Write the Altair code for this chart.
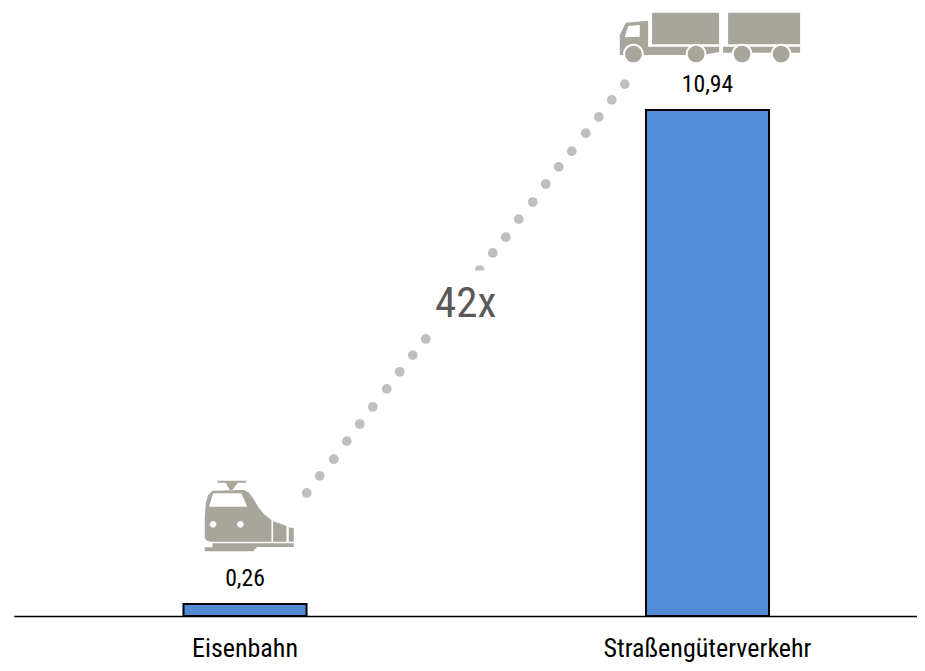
import altair as alt
import pandas as pd

categories = ["Eisenbahn", "Straßengüterverkehr"]
values = [0.26, 10.94]
value_labels = ["0,26", "10,94"]

# connector dots: x in category positions (0 = Eisenbahn, 1 = Straße), y in chart units
dot_x = [0.1335, 0.1616, 0.1919, 0.2200, 0.2481, 0.2762, 0.3065, 0.3346, 0.3627, 0.3908, 0.4211, 0.4492, 0.4773,
         0.5076, 0.5357, 0.5638, 0.5919, 0.6222, 0.6503, 0.6784, 0.7065, 0.7368, 0.7649, 0.7930, 0.8211]
dot_y = [2.66, 3.03, 3.39, 3.78, 4.15, 4.52, 4.91, 5.28, 5.64, 5.99, 6.38, 6.75, 7.11, 7.48, 7.85, 8.19,
         8.58, 8.95, 9.34, 9.71, 10.05, 10.44, 10.79, 11.16, 11.50]

factor_label = ["42x"]
factor_x = [0.477]
factor_y = [6.74]
mask_x = [0.405, 0.555]
mask_y = [6.10, 7.47]

font = "Roboto Condensed"
grey = "#a8a59c"


def poly(pts, c):
    return "M" + " L".join(f"{x - c[0]:g} {y - c[1]:g}" for x, y in pts) + " Z"


def circle(cx, cy, r, c, ccw=False):
    s = 0 if ccw else 1
    return (f"M{cx - c[0] - r:g} {cy - c[1]:g} a{r} {r} 0 1 {s} {2 * r} 0 "
            f"a{r} {r} 0 1 {s} {-2 * r} 0 Z")


tc = (240, 160)
train_shape = " ".join([
    poly([(105, 235), (105, 170), (108, 130), (115, 105), (128, 92), (222, 90), (238, 98), (252, 118), (265, 140),
          (282, 162), (305, 180), (305, 245), (125, 245), (112, 243)], tc),
    poly([(118, 140), (232, 140), (215, 100), (130, 100)], tc),
    circle(130, 193, 10, tc, True),
    circle(212, 193, 10, tc, True),
    poly([(310, 183), (350, 198), (350, 245), (310, 245)], tc),
    poly([(357, 202), (372, 205), (372, 245), (357, 245)], tc),
    poly([(105, 262), (128, 262), (128, 250), (372, 250), (372, 261), (262, 261), (250, 274), (105, 274)], tc),
    poly([(143, 62), (230, 62), (230, 68), (204, 68), (188, 90), (180, 90), (168, 68), (143, 68)], tc),
])

kc = (360, 110)
truck_body = " ".join([
    poly([(187, 38), (388, 38), (388, 133), (187, 133)], kc),
    poly([(415, 38), (631, 38), (631, 133), (415, 133)], kc),
    poly([(90, 160), (90, 105), (108, 68), (175, 62), (175, 140), (388, 140), (388, 156), (340, 165), (90, 165)], kc),
    poly([(105, 112), (150, 110), (150, 75), (115, 78)], kc),
    poly([(400, 140), (631, 140), (631, 158), (400, 158)], kc),
])
wheel_c = [(131, 162), (319, 162), (457, 162), (574, 162)]
truck_rings = " ".join(circle(x, y, 31, kc) for x, y in wheel_c)
truck_wheels = " ".join(circle(x, y, 25, kc) for x, y in wheel_c)

icon_x_train, icon_y_train = [0.0103], [2.22]
icon_x_truck, icon_y_truck = [1.0049], [12.526]

bars_df = pd.DataFrame({"cat": categories, "v": values, "lab": value_labels})
dots_df = pd.DataFrame({"x": dot_x, "y": dot_y})
mask_df = pd.DataFrame({"x": [mask_x[0]], "x2": [mask_x[1]], "y": [mask_y[0]], "y2": [mask_y[1]]})
factor_df = pd.DataFrame({"x": factor_x, "y": factor_y, "t": factor_label})
train_df = pd.DataFrame({"x": icon_x_train, "y": icon_y_train})
truck_df = pd.DataFrame({"x": icon_x_truck, "y": icon_y_truck})

W, H = 903, 608
yscale = alt.Scale(domain=[0, H / 46.25], range=[H, 0], nice=False, zero=False)
xq = alt.Scale(domain=[-0.5, 1.4524], range=[0, W], nice=False, zero=False)
xb = alt.Scale(domain=categories, range=[0, 925], paddingInner=0.734, paddingOuter=0.367)

X = alt.X("x:Q", scale=xq, axis=None)
Y = alt.Y("y:Q", scale=yscale, axis=None)
XC = alt.X("cat:N", scale=xb, sort=categories, title=None,
           axis=alt.Axis(domainColor="black", domainWidth=1.6, ticks=False, labelAngle=0, labelFont=font,
                         labelFontSize=26, labelColor="black", labelPadding=19, grid=False, labelLimit=0))
XT = alt.X("cat:N", scale=xb, sort=categories, axis=None)
YV = alt.Y("v:Q", scale=yscale, axis=None)

dots = alt.Chart(dots_df).mark_point(filled=True, size=95, color="#bfbfbf", opacity=1).encode(x=X, y=Y)
mask = alt.Chart(mask_df).mark_rect(color="white").encode(x=X, x2="x2:Q", y=Y, y2="y2:Q")
factor = alt.Chart(factor_df).mark_text(font=font, fontSize=43, color="#595959").encode(x=X, y=Y, text="t:N")


def icon(df, shape, color):
    return alt.Chart(df).mark_point(filled=True, shape=shape, size=4 / 9, color=color, opacity=1,
                                    strokeWidth=0).encode(x=X, y=Y)


q_layer = alt.layer(dots, mask, factor,
                    icon(train_df, train_shape, grey),
                    icon(truck_df, truck_body, grey),
                    icon(truck_df, truck_rings, "white"),
                    icon(truck_df, truck_wheels, grey))

bars = alt.Chart(bars_df).mark_bar(color="#528bd6", stroke="black", strokeWidth=2).encode(x=XC, y=YV)
bar_text = alt.Chart(bars_df).mark_text(font=font, fontSize=23.7, color="black", dy=-25).encode(x=XT, y=YV, text="lab:N")

chart = alt.layer(q_layer, bars, bar_text).resolve_scale(x="independent").properties(
    width=W, height=H, autosize="none",
    padding={"left": 5.75, "top": 0, "right": 0, "bottom": 47},
    background="white",
).configure_view(stroke=None)

chart.save("out.html", embed_options={"renderer": "svg", "actions": False})
